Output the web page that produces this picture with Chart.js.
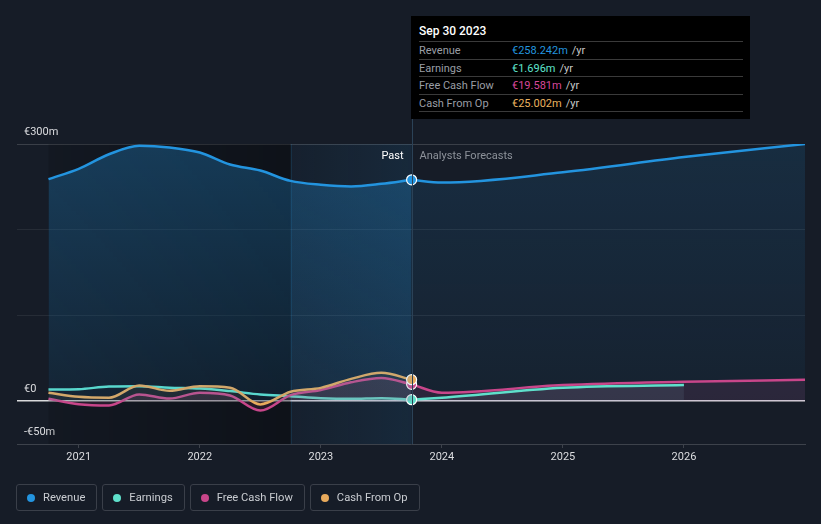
<!DOCTYPE html>
<html>
<head>
<meta charset="utf-8">
<script src="https://cdn.jsdelivr.net/npm/chart.js@4.4.1/dist/chart.umd.min.js"></script>
<style>
  html, body { margin:0; padding:0; background:#161c27; }
  body { width:821px; height:524px; position:relative; overflow:hidden; font-family: Roboto, "Noto Sans", sans-serif; }
  #c { position:absolute; left:0; top:0; }
  #tip { position:absolute; left:411px; top:16px; width:339px; height:103px; background:#000; box-sizing:border-box; padding:7px 7px 0 8px; }
  #tip .t { color:#fff; font-size:12px; font-weight:500; height:18px; line-height:16px; border-bottom:1px solid #3a3a3a; }
  #tip .r { font-size:11px; font-weight:400; height:17.5px; line-height:17px; border-bottom:1px solid #3a3a3a; display:flex; box-sizing:border-box; }
  #tip .r .l { color:#9a9ea5; width:93px; }
  #tip .r .u { color:#c8c8c8; margin-left:4px; }
  #legend { position:absolute; left:16px; top:484px; display:flex; gap:5px; }
  .lg { height:27px; border:1px solid #3a3f49; border-radius:3px; box-sizing:border-box; display:flex; align-items:center; padding:0 11px 0 10px; color:#c9ccd1; font-size:11.2px; }
  .lg i { width:8px; height:8px; border-radius:50%; margin-right:8px; display:inline-block; }
</style>
</head>
<body>
<canvas id="c" width="821" height="524"></canvas>
<div id="tip"></div>
<div id="legend"></div>
<script>
// ---- data (values in € millions, x = decimal year) ----
const pastPeriods     = [2020.75, 2021.0, 2021.25, 2021.5, 2021.75, 2022.0, 2022.25, 2022.5, 2022.75, 2023.0, 2023.25, 2023.5, 2023.75];
const revenuePast     = [259, 271, 288, 298, 296, 290, 276, 269, 257, 252.5, 250.5, 253.5, 258.242];
const earningsPast    = [13.6, 14, 17, 17.3, 15.7, 14.7, 11.7, 7.8, 5.8, 3.5, 2.7, 3.5, 1.696];
const fcfPast         = [2.8, -3.5, -5, 7.8, 3, 9.8, 6.6, -11, 7, 13, 22, 27, 19.581];
const cfoPast         = [9.8, 5, 4, 18.3, 12, 17.3, 15.7, -3.8, 11, 15.5, 26, 33, 25.002];

const forecastPeriods = [2023.75, 2024.0, 2025.0, 2026.0, 2027.0];
const revenueFc       = [258.242, 255, 267, 284.7, 300];
const earningsFcPeriods = [2023.75, 2024.0, 2025.0, 2026.0];
const earningsFc      = [1.696, 4, 15.6, 18.7];
const fcfFc           = [19.581, 9.8, 18.7, 22.6, 24.9];

const yearTicks  = [2021, 2022, 2023, 2024, 2025, 2026];
const yTicks     = [-50, 0, 100, 200, 300];
const yLabels    = {"-50": "-€50m", "0": "€0", "300": "€300m"};
const highlightStart = 2022.75;
const nowPeriod  = 2023.75;

const seriesNames = ["Revenue", "Earnings", "Free Cash Flow", "Cash From Op"];
const tooltipVals = ["€258.242m", "€1.696m", "€19.581m", "€25.002m"];
const tooltipDate = "Sep 30 2023";

const C = { rev:'#2394df', earn:'#5fe0cb', fcf:'#c8468a', cfo:'#e8aa5c' };
const colorsList = [C.rev, C.earn, C.fcf, C.cfo];
const tipColors = ['#2394df', '#5fe3cd', '#d8479a', '#eab15f'];

// ---- html tooltip & legend ----
const tip = document.getElementById('tip');
let th = '<div class="t">' + tooltipDate + '</div>';
seriesNames.forEach((n, i) => {
  th += '<div class="r"><span class="l">' + n + '</span><span style="color:' + tipColors[i] + '">' + tooltipVals[i] + '</span><span class="u">/yr</span></div>';
});
tip.innerHTML = th;
const lg = document.getElementById('legend');
seriesNames.forEach((n, i) => {
  lg.innerHTML += '<div class="lg"><i style="background:' + colorsList[i] + '"></i>' + n + '</div>';
});

function pts(xs, ys) { return xs.map((x, i) => ({x: x, y: ys[i]})); }
const lastIdx = pastPeriods.length - 1;
const endDot = (ctx) => ctx.dataIndex === lastIdx ? 5 : 0;

function vGrad(chart, c1, c2) {
  const {ctx, chartArea} = chart;
  if (!chartArea) return c1;
  const y = chart.scales.y;
  const g = ctx.createLinearGradient(0, y.getPixelForValue(300), 0, y.getPixelForValue(0));
  g.addColorStop(0, c1); g.addColorStop(1, c2);
  return g;
}

const bgPlugin = {
  id: 'bgRegions',
  beforeDatasetsDraw(chart) {
    const {ctx, chartArea: a, scales: {x, y}} = chart;
    const x0 = x.getPixelForValue(pastPeriods[0]);
    const xh = x.getPixelForValue(highlightStart);
    const xn = x.getPixelForValue(nowPeriod);
    ctx.save();
    let g = ctx.createLinearGradient(x0, 0, xh, 0);
    g.addColorStop(0, 'rgba(0,0,0,0.12)');
    g.addColorStop(1, 'rgba(0,0,0,0.35)');
    ctx.fillStyle = g;
    ctx.fillRect(x0, a.top, xh - x0, a.bottom - a.top);
    g = ctx.createLinearGradient(xh, 0, xn, 0);
    g.addColorStop(0, 'rgba(35,148,223,0.04)');
    g.addColorStop(1, 'rgba(35,148,223,0.11)');
    ctx.fillStyle = g;
    ctx.fillRect(xh, a.top, xn - xh, a.bottom - a.top);
    ctx.strokeStyle = 'rgba(35,148,223,0.14)';
    ctx.lineWidth = 1;
    ctx.beginPath(); ctx.moveTo(Math.round(xh) + 0.5, a.top); ctx.lineTo(Math.round(xh) + 0.5, a.bottom); ctx.stroke();
    ctx.restore();
  },
  afterDatasetsDraw(chart) {
    const {ctx, chartArea: a, scales: {x}} = chart;
    const xn = x.getPixelForValue(nowPeriod);
    ctx.save();
    ctx.strokeStyle = '#2b4257';
    ctx.lineWidth = 1;
    ctx.beginPath(); ctx.moveTo(Math.round(xn) + 0.5, 16); ctx.lineTo(Math.round(xn) + 0.5, a.bottom); ctx.stroke();
    ctx.font = '11px Roboto, "Noto Sans", sans-serif';
    ctx.textBaseline = 'middle';
    ctx.textAlign = 'right';
    ctx.fillStyle = '#ffffff';
    ctx.fillText('Past', xn - 8, a.top + 12);
    ctx.textAlign = 'left';
    ctx.fillStyle = '#8d929a';
    ctx.fillText('Analysts Forecasts', xn + 8, a.top + 12);
    ctx.restore();
  }
};

const common = { borderWidth: 2.5, cubicInterpolationMode: 'monotone', pointBorderColor: '#ffffff', pointBorderWidth: 1.2, pointHoverRadius: 0 };

new Chart(document.getElementById('c'), {
  type: 'line',
  data: {
    datasets: [
      Object.assign({}, common, { label:'cfoPast', data: pts(pastPeriods, cfoPast), borderColor: C.cfo, pointBackgroundColor: C.cfo,
        pointRadius: endDot, fill: 'origin', backgroundColor: 'rgba(232,170,92,0.07)', order: 1 }),
      Object.assign({}, common, { label:'fcfPast', data: pts(pastPeriods, fcfPast), borderColor: C.fcf, pointBackgroundColor: C.fcf,
        pointRadius: endDot, fill: 'origin', backgroundColor: 'rgba(200,70,138,0.12)', order: 2 }),
      Object.assign({}, common, { label:'earnPast', data: pts(pastPeriods, earningsPast), borderColor: C.earn, pointBackgroundColor: C.earn,
        pointRadius: endDot, fill: false, order: 3 }),
      Object.assign({}, common, { label:'fcfFc', data: pts(forecastPeriods, fcfFc), borderColor: C.fcf, pointRadius: 0,
        fill: 'origin', backgroundColor: 'rgba(200,70,138,0.12)', order: 5 }),
      Object.assign({}, common, { label:'earnFc', data: pts(earningsFcPeriods, earningsFc), borderColor: C.earn, pointRadius: 0,
        fill: 'origin', backgroundColor: 'rgba(150,190,210,0.10)', order: 4 }),
      Object.assign({}, common, { label:'revPast', data: pts(pastPeriods, revenuePast), borderColor: C.rev, pointBackgroundColor: C.rev,
        pointRadius: endDot, fill: 'origin', order: 0,
        backgroundColor: (ctx) => vGrad(ctx.chart, 'rgba(35,148,223,0.30)', 'rgba(35,148,223,0.10)') }),
      Object.assign({}, common, { label:'revFc', data: pts(forecastPeriods, revenueFc), borderColor: C.rev, pointRadius: 0,
        fill: 'origin', order: 6,
        backgroundColor: (ctx) => vGrad(ctx.chart, 'rgba(35,148,223,0.14)', 'rgba(35,148,223,0.05)') })
    ]
  },
  options: {
    responsive: false,
    animation: false,
    devicePixelRatio: 1,
    layout: { padding: { left: 17, right: 16, top: 144, bottom: 0 } },
    plugins: { legend: { display: false }, tooltip: { enabled: false } },
    events: [],
    scales: {
      x: {
        type: 'linear', min: 2020.49, max: 2027.0,
        afterBuildTicks: (s) => { s.ticks = yearTicks.map(v => ({ value: v })); },
        afterFit: (s) => { s.height = 80; },
        ticks: { color: '#dcdde0', font: { size: 11, family: 'Roboto' }, padding: 3, maxRotation: 0, callback: (v) => String(v) },
        grid: { drawOnChartArea: false, drawTicks: true, tickLength: 4, color: '#3d424b' },
        border: { display: true, color: '#3d424b', width: 1 }
      },
      y: {
        min: -50, max: 300,
        afterBuildTicks: (s) => { s.ticks = yTicks.map(v => ({ value: v })); },
        afterFit: (s) => { s.width = 0; },
        ticks: { mirror: true, padding: 7, labelOffset: -12, color: '#dcdde0', font: { size: 11, family: 'Roboto' },
          callback: (v) => yLabels[String(v)] || '' },
        grid: { drawTicks: false,
          color: (c) => c.tick.value === 0 ? '#d9dadc' : (c.tick.value === 300 ? '#3a3f48' : (c.tick.value === -50 ? 'rgba(0,0,0,0)' : '#262c36')),
          lineWidth: (c) => c.tick.value === 0 ? 1.5 : 1 },
        border: { display: false }
      }
    }
  },
  plugins: [bgPlugin]
});
</script>
</body>
</html>
